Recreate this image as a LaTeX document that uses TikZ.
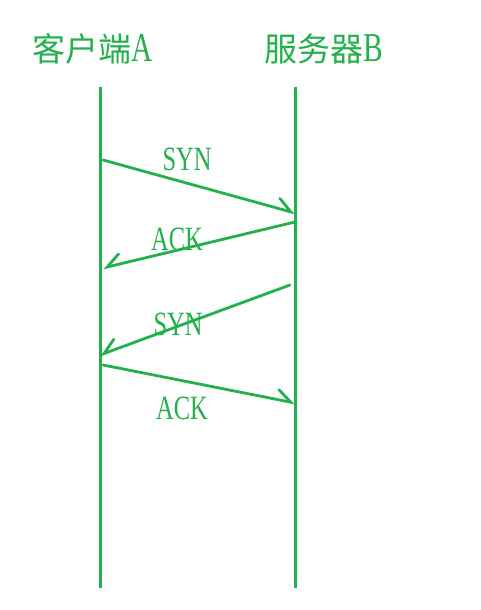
\documentclass[tikz,border=0pt]{standalone}
\usepackage{fontspec}
\usepackage{graphicx}
\setmainfont{Liberation Serif}
\newfontfamily\cjk{Noto Sans CJK SC}
\usetikzlibrary{arrows.meta}
\definecolor{paintgreen}{RGB}{34,177,76}
\newcommand{\narrowtext}[1]{\scalebox{0.72}[1]{#1}}

\begin{document}
\begin{tikzpicture}[x=1pt, y=-1pt,
    lifeline/.style={line width=3pt, draw=paintgreen},
    msg/.style={line width=2.8pt, draw=paintgreen, line cap=round,
      -{Straight Barb[harpoon, length=14pt, width=20pt, line cap=round]}},
    msgback/.style={line width=2.8pt, draw=paintgreen, line cap=round,
      -{Straight Barb[harpoon, swap, length=14pt, width=20pt, line cap=round]}},
    msglabel/.style={text=paintgreen, anchor=base, inner sep=0pt,
      font=\fontsize{34}{34}\selectfont},
    headlabel/.style={text=paintgreen, anchor=base, inner sep=0pt,
      font=\fontsize{33}{33}\selectfont}]
  %
  \fill[white] (0,0) rectangle (480,610);
  \useasboundingbox (0,0) rectangle (480,610);
  %
  \node[headlabel] (client) at (93,61) {{\cjk 客户端}\narrowtext{\fontsize{41}{41}\selectfont A}};
  \node[headlabel] (server) at (324,61) {{\cjk 服务器}\narrowtext{\fontsize{41}{41}\selectfont B}};
  %
  \coordinate (atop) at (100,87);
  \coordinate (abot) at (100,588);
  \coordinate (btop) at (295,87);
  \coordinate (bbot) at (295,588);
  \draw[lifeline] (atop) -- (abot);
  \draw[lifeline] (btop) -- (bbot);
  %
  \coordinate (a1) at (103,160);
  \coordinate (b1) at (295,213);
  \coordinate (b2) at (295,222);
  \coordinate (a2) at (103,268);
  \coordinate (b3) at (290,285);
  \coordinate (a3) at (100,355);
  \coordinate (a4) at (103,365);
  \coordinate (b4) at (295,403);
  %
  \draw[msg] (a1) -- (b1);
  \draw[msgback] (b2) -- (a2);
  \draw[msgback] (b3) -- (a3);
  \draw[msg] (a4) -- (b4);
  %
  \node[msglabel] (syn1) at (187,170) {\narrowtext{SYN}};
  \node[msglabel] (ack1) at (177,250) {\narrowtext{ACK}};
  \node[msglabel] (syn2) at (178,335) {\narrowtext{SYN}};
  \node[msglabel] (ack2) at (182,419) {\narrowtext{ACK}};
\end{tikzpicture}
\end{document}
